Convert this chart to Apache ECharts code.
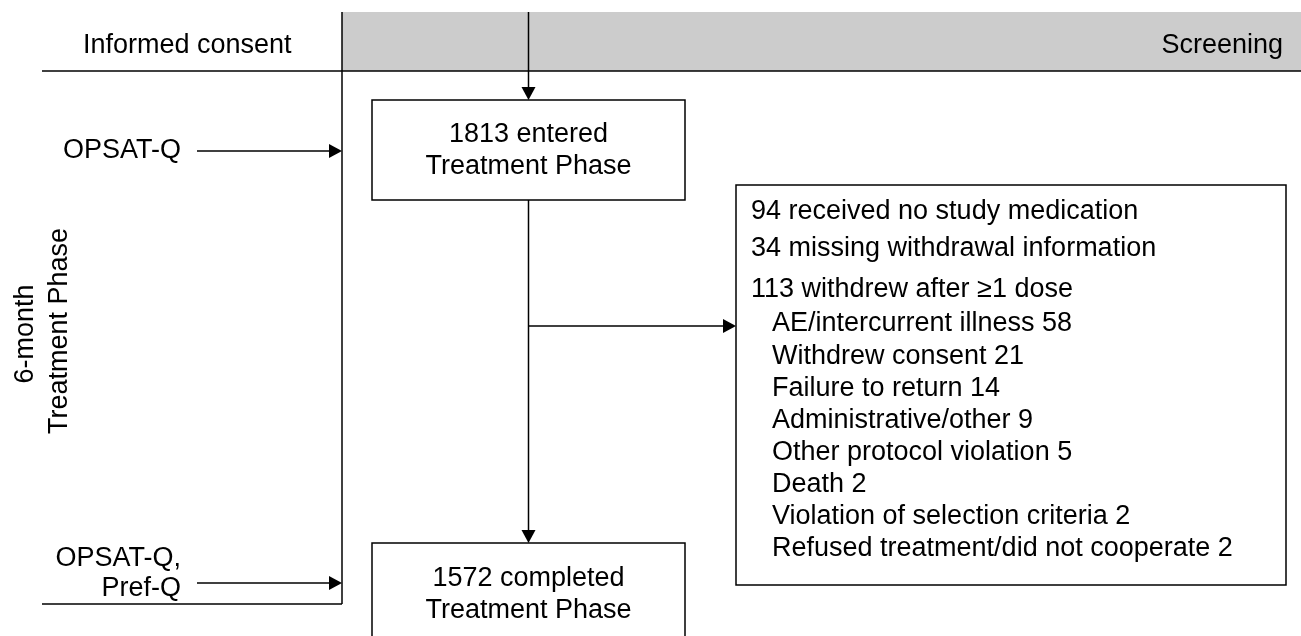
<!DOCTYPE html>
<html>
<head>
<meta charset="utf-8">
<script src="https://cdn.jsdelivr.net/npm/echarts@6/dist/echarts.min.js"></script>
<style>
  html, body { margin: 0; padding: 0; background: #fff; }
  #chart { width: 1301px; height: 636px; }
</style>
</head>
<body>
<div id="chart"></div>
<script>
// flow chart content
const phaseLabels = ['Informed consent', 'Screening'];
const periodLabels = ['6-month', 'Treatment Phase'];
const questionnaireLabels = [['OPSAT-Q'], ['OPSAT-Q,', 'Pref-Q']];
const stageCounts = [1813, 1572];
const stageLabels = [['entered', 'Treatment Phase'], ['completed', 'Treatment Phase']];
const exclusionCounts = [94, 34, 113];
const exclusionLabels = ['received no study medication', 'missing withdrawal information', 'withdrew after \u22651 dose'];
const reasonLabels = ['AE/intercurrent illness', 'Withdrew consent', 'Failure to return', 'Administrative/other',
  'Other protocol violation', 'Death', 'Violation of selection criteria', 'Refused treatment/did not cooperate'];
const reasonCounts = [58, 21, 14, 9, 5, 2, 2, 2];

// layout (pixels)
const FONT = '27px "Liberation Sans", Arial, sans-serif';
const INK = '#000';
const LW = 1.5;
const band = { top: 12, bottom: 71, left: 342, lineStart: 42, bottomLine: 604 };
const box1 = { x: 372, y: 100, w: 313, h: 100, lines: [135, 167] };
const box2 = { x: 372, y: 543, w: 313, h: 120, lines: [579, 611] };
const box3 = { x: 736, y: 185, w: 550, h: 400, textX: 751, subX: 772 };
const exclusionY = [212, 249, 290];
const reasonTop = 324, reasonStep = 32.1;

function text(x, y, str, align, extra) {
  return Object.assign({
    type: 'text', x: x, y: y, silent: true,
    style: {
      text: str, font: FONT, fill: INK,
      align: align, textAlign: align, verticalAlign: 'middle', textVerticalAlign: 'middle'
    }
  }, extra || {});
}
function line(x1, y1, x2, y2) {
  return { type: 'line', silent: true, shape: { x1, y1, x2, y2 }, style: { stroke: INK, lineWidth: LW } };
}
function arrow(x1, y1, x2, y2) {
  const len = 13, half = 7;
  const dx = x2 - x1, dy = y2 - y1, d = Math.hypot(dx, dy);
  const ux = dx / d, uy = dy / d;
  const bx = x2 - ux * len, by = y2 - uy * len;
  return [
    line(x1, y1, bx, by),
    { type: 'polygon', silent: true, shape: { points: [[x2, y2], [bx - uy * half, by + ux * half], [bx + uy * half, by - ux * half]] },
      style: { fill: INK } }
  ];
}
function box(b) {
  return { type: 'rect', silent: true, shape: { x: b.x, y: b.y, width: b.w, height: b.h },
    style: { fill: '#fff', stroke: INK, lineWidth: LW } };
}

const W = 1301;
const midX = box1.x + box1.w / 2;
let els = [];

// screening band
els.push({ type: 'rect', silent: true, shape: { x: band.left, y: band.top, width: W - band.left, height: band.bottom - band.top },
  style: { fill: '#cccccc' } });
els.push(line(band.lineStart, band.bottom, W, band.bottom));
els.push(line(band.left, band.top, band.left, band.bottomLine));
els.push(line(band.lineStart, band.bottomLine, band.left, band.bottomLine));
els.push(text(83, 46, phaseLabels[0], 'left'));
els.push(text(1283, 46, phaseLabels[1], 'right'));

// period label
els.push(text(26, 334, periodLabels[0], 'center', { rotation: Math.PI / 2 }));
els.push(text(60, 331, periodLabels[1], 'center', { rotation: Math.PI / 2 }));

// questionnaires
els.push(text(181, 151, questionnaireLabels[0][0], 'right'));
els = els.concat(arrow(197, 151, band.left, 151));
els.push(text(181, 559, questionnaireLabels[1][0], 'right'));
els.push(text(181, 589, questionnaireLabels[1][1], 'right'));
els = els.concat(arrow(197, 583, band.left, 583));

// main flow
els = els.concat(arrow(midX, band.top, midX, box1.y));
els.push(box(box1));
els.push(text(midX, box1.lines[0], stageCounts[0] + ' ' + stageLabels[0][0], 'center'));
els.push(text(midX, box1.lines[1], stageLabels[0][1], 'center'));
els = els.concat(arrow(midX, box1.y + box1.h, midX, box2.y));
els.push(box(box2));
els.push(text(midX, box2.lines[0], stageCounts[1] + ' ' + stageLabels[1][0], 'center'));
els.push(text(midX, box2.lines[1], stageLabels[1][1], 'center'));

// exclusions
els = els.concat(arrow(midX, 326, box3.x, 326));
els.push(box(box3));
exclusionCounts.forEach(function (n, i) {
  els.push(text(box3.textX, exclusionY[i], n + ' ' + exclusionLabels[i], 'left'));
});
reasonCounts.forEach(function (n, i) {
  els.push(text(box3.subX, reasonTop + i * reasonStep, reasonLabels[i] + ' ' + n, 'left'));
});

const chart = echarts.init(document.getElementById('chart'));
chart.setOption({
  backgroundColor: '#fff',
  animation: false,
  graphic: { elements: els }
});
</script>
</body>
</html>
